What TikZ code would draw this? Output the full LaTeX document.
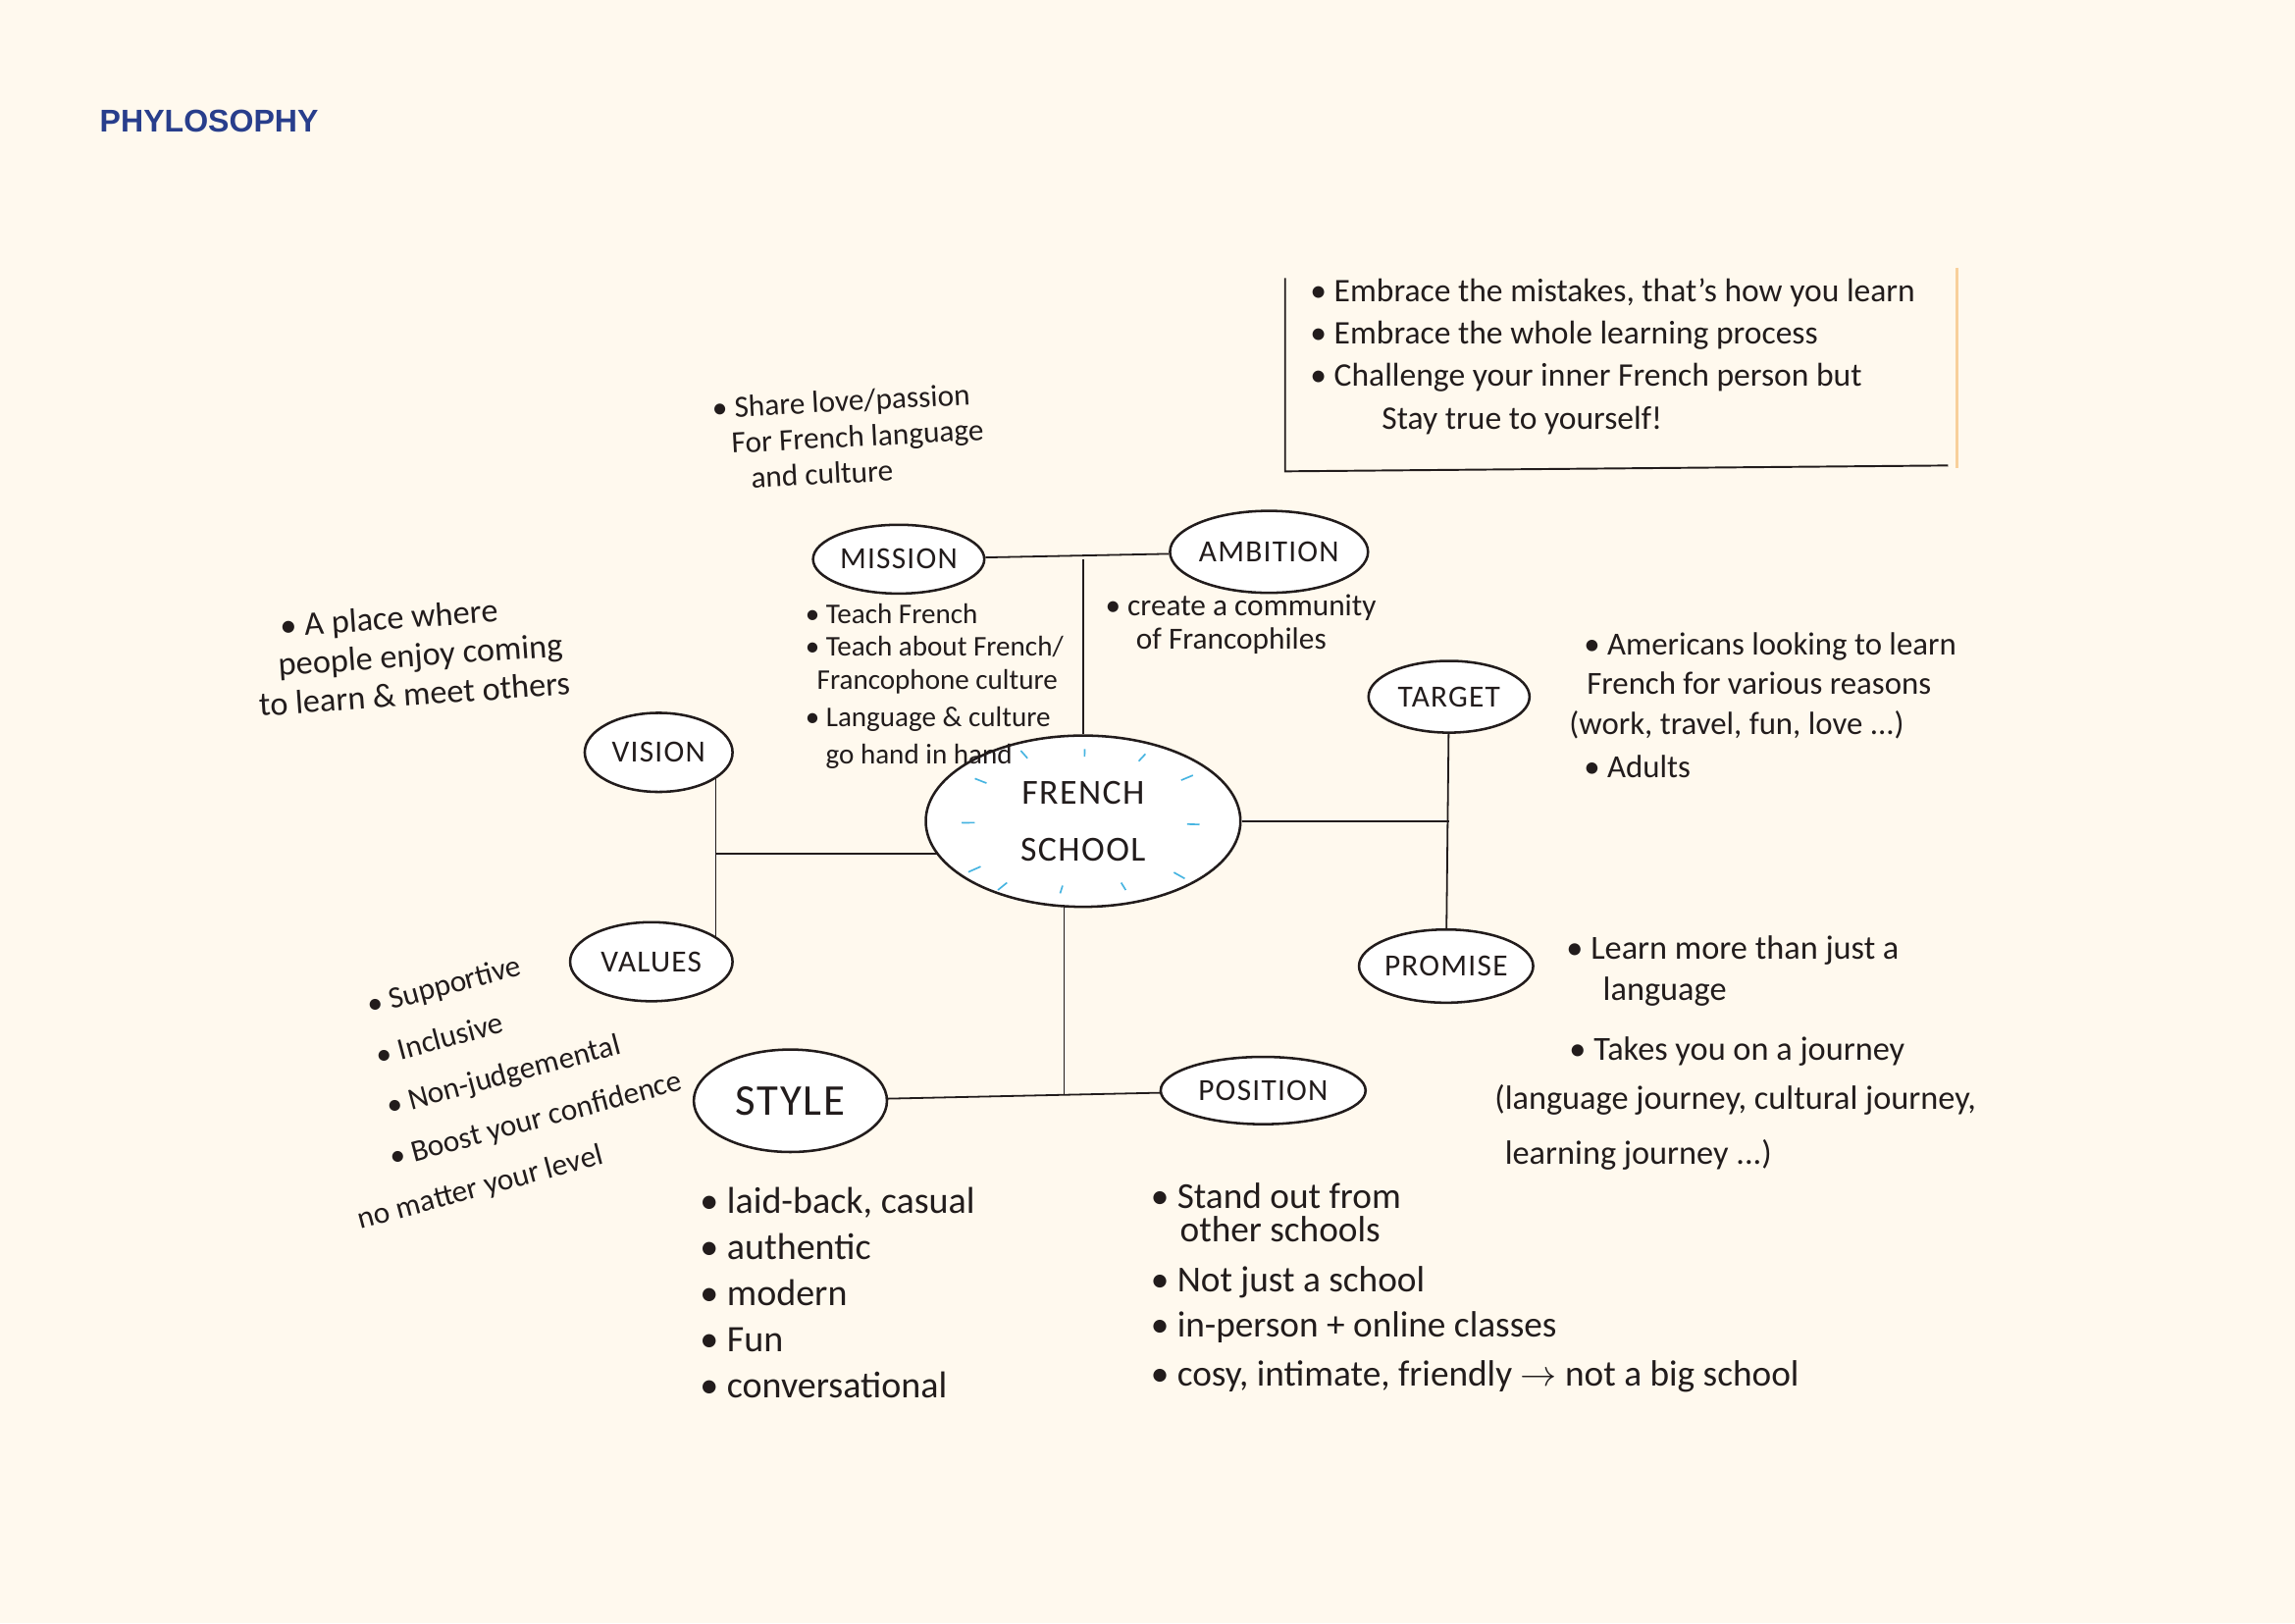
\documentclass[tikz,border=0pt]{standalone}
\usepackage{fontspec}
\setmainfont{Carlito}
\newfontfamily\titlefont{Liberation Sans}
\newfontfamily\capsfont[LetterSpace=4]{Carlito}
\usetikzlibrary{shapes.geometric}
\definecolor{paper}{RGB}{255,249,238}
\definecolor{ink}{RGB}{34,28,28}
\definecolor{titleblue}{RGB}{40,62,140}
\definecolor{tickblue}{RGB}{70,180,225}
\definecolor{edge}{RGB}{248,208,155}
\tikzstyle{bubble} = [ellipse, draw=ink, line width=1.7pt, fill=white, inner sep=0pt, text=ink, font=\capsfont\fontsize{21}{24}\selectfont]
\tikzstyle{note} = [align=left, inner sep=0pt, text=ink, anchor=north west, font=\fontsize{22}{27}\selectfont]
\tikzstyle{link} = [draw=ink, line width=1.2pt]
\tikzstyle{tick} = [draw=tickblue, line width=1.1pt]
\pgfdeclarelayer{sheet}
\pgfdeclarelayer{wires}
\pgfsetlayers{sheet,wires,main}

\begin{document}
\begin{tikzpicture}[x=1pt, y=-1pt]
\begin{pgfonlayer}{sheet}
\fill [paper] (0,0) rectangle (1568,1109);
\end{pgfonlayer}
\useasboundingbox (0,0) rectangle (1568,1109);

\node (title) [anchor=west, inner sep=0pt, text=titleblue, font=\titlefont\bfseries\fontsize{21.5}{24}\selectfont] at (68,83) {PHYLOSOPHY};

% bubbles
\node (fs) [bubble, minimum width=215pt, minimum height=117pt, align=center, font=\capsfont\fontsize{24}{39}\selectfont] at (740,561) {FRENCH\\SCHOOL};
\node (mission) [bubble, minimum width=117pt, minimum height=47pt] at (614,382) {MISSION};
\node (ambition) [bubble, minimum width=132pt, minimum height=56pt] at (867,377) {AMBITION};
\node (vision) [bubble, minimum width=101pt, minimum height=54pt] at (450,514) {VISION};
\node (values) [bubble, minimum width=111pt, minimum height=54pt] at (445,657) {VALUES};
\node (target) [bubble, minimum width=110pt, minimum height=49pt] at (990,476) {TARGET};
\node (promise) [bubble, minimum width=119pt, minimum height=50pt] at (988,660) {PROMISE};
\node (style) [bubble, minimum width=132pt, minimum height=70pt, font=\capsfont\fontsize{30}{32}\selectfont] at (540,752) {STYLE};
\node (position) [bubble, minimum width=140pt, minimum height=46pt] at (863,745) {POSITION};

% blue marks round the centre
\foreach \dx/\dy in {-38/-43, 1/-44, 38/-41, -66/-26, 67/-28, -74/1, 71/2, -70/31, 62/35, -52/42, -14/44, 26/42}
  \draw [tick] ([shift={(\dx,\dy)}]fs.center) -- ++({0.12*\dx},{0.12*\dy});

% connectors
\begin{pgfonlayer}{wires}
\coordinate (jl) at (489,583);
\coordinate (jb) at (727,748);
\draw [link] (mission) -- (ambition);
\draw [link] (fs) -- (fs |- mission);
\draw [link] (vision.center -| jl) -- (values.center -| jl);
\draw [link] (jl) -- (jl -| fs.center);
\draw [link] (target) -- (promise);
\draw [link] (fs) -- (fs -| target);
\draw [link] (fs.center -| jb) -- (jb);
\draw [link] (style) -- (position);
\end{pgfonlayer}

% note box
\draw [link, line width=1.3pt] (878,190) -- (878,322) -- (1331,318);
\draw [edge, line width=1.5pt] (1337,183) -- (1337,320);
\node (rules) [note, font=\fontsize{22.5}{29}\selectfont] at (895,190) {\textbullet\ Embrace the mistakes, that's how you learn\\
\textbullet\ Embrace the whole learning process\\
\textbullet\ Challenge your inner French person but\\
\hspace*{49pt}Stay true to yourself!};

% texts
\node (share) [note, rotate=3, font=\fontsize{21}{24.5}\selectfont] at (486,271) {\textbullet\ Share love/passion\\
\hspace*{12pt}For French language\\
\hspace*{24pt}and culture};
\node (missiontxt) [note, font=\fontsize{19.5}{22.5}\selectfont] at (550,412) {\textbullet\ Teach French\\
\textbullet\ Teach about French/\\
\hspace*{8pt}Francophone culture\\[3pt]
\textbullet\ Language \& culture\\[3pt]
\hspace*{14pt}go hand in hand};
\node (ambitiontxt) [note, font=\fontsize{21}{23}\selectfont] at (755,406) {\textbullet\ create a community\\
\hspace*{21pt}of Francophiles};
\node (visiontxt) [note, anchor=west, rotate=4, font=\fontsize{23}{26.5}\selectfont] at (175,455) {\hspace*{18pt}\textbullet\ A place where\\
\hspace*{15pt}people enjoy coming\\
to learn \& meet others};
\node (valuestxt) [note, anchor=west, rotate=15, font=\fontsize{21}{34.8}\selectfont] at (227,767) {\hspace*{44pt}\textbullet\ Supportive\\
\hspace*{41pt}\textbullet\ Inclusive\\
\hspace*{39pt}\textbullet\ Non-judgemental\\
\hspace*{32pt}\textbullet\ Boost your confidence\\
no matter your level};
\node (targettxt) [note] at (1072,432) {\hspace*{10pt}\textbullet\ Americans looking to learn\\
\hspace*{12pt}French for various reasons\\
(work, travel, fun, love ...)\\[3pt]
\hspace*{10pt}\textbullet\ Adults};
\node (promisetxt) [note, font=\fontsize{23}{28}\selectfont] at (1021,639) {\hspace*{49pt}\textbullet\ Learn more than just a\\
\hspace*{74pt}language\\[13pt]
\hspace*{51pt}\textbullet\ Takes you on a journey\\[6pt]
(language journey, cultural journey,\\[9pt]
\hspace*{7pt}learning journey ...)};
\node (styletxt) [note, font=\fontsize{25.5}{31.5}\selectfont] at (478,811) {\textbullet\ laid-back, casual\\
\textbullet\ authentic\\
\textbullet\ modern\\
\textbullet\ Fun\\
\textbullet\ conversational};
\node (positiontxt) [note, font=\fontsize{25}{23}\selectfont] at (786,808) {\textbullet\ Stand out from\\
\hspace*{20pt}other schools\\[11pt]
\textbullet\ Not just a school\\[8pt]
\textbullet\ in-person + online classes\\[10pt]
\textbullet\ cosy, intimate, friendly $\rightarrow$ not a big school};
\end{tikzpicture}
\end{document}
